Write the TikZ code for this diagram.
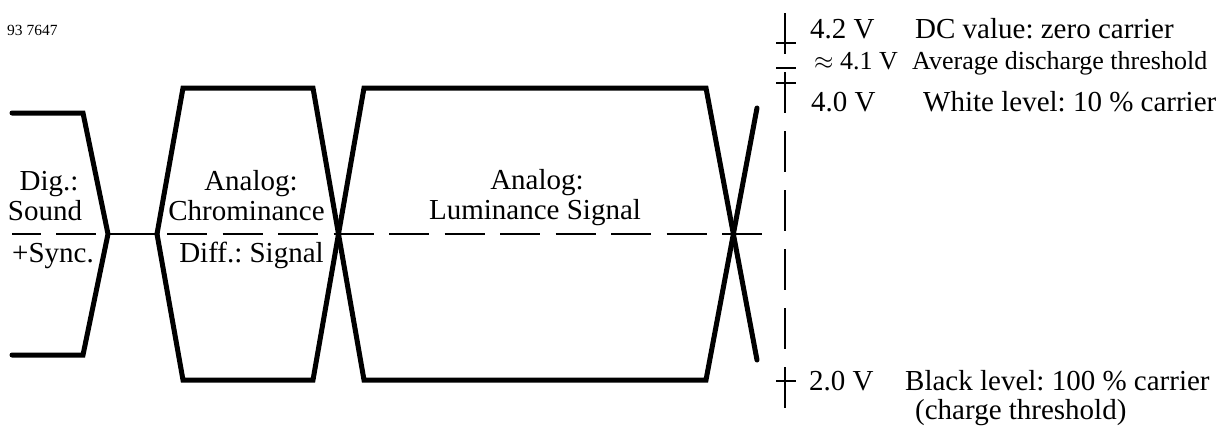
\documentclass[tikz,border=0pt]{standalone}
\usepackage{fontspec}
\setmainfont{Liberation Serif}
\usetikzlibrary{positioning}
\frenchspacing

\begin{document}
\begin{tikzpicture}[
    x=1pt, y=-1pt,
    signal/.style={
        line width=5pt,
        line join=miter,
        line cap=round
    },
    midlevel/.style={
        line width=2.5pt,
        dash pattern=on 40pt off 15.5pt,
        dash phase=11.5pt
    },
    scaleline/.style={
        line width=2.5pt,
        dash pattern=on 41pt off 18pt
    },
    tick/.style={line width=2.5pt},
    lbl/.style={
        font=\fontsize{29}{30}\selectfont,
        inner sep=0pt,
        anchor=base
    },
    smalllbl/.style={
        font=\fontsize{26}{27}\selectfont,
        inner sep=0pt
    }
]
\useasboundingbox (0,0) rectangle (1229,426);

\node[font=\fontsize{15.5}{16}\selectfont, inner sep=0pt, anchor=base west] (figno) at (7,35) {93 7647};

% zero line
\draw[midlevel] (12,234) -- (762,234);

% sound + sync burst
\coordinate (sndtip) at (108,234);
\coordinate (chrtip) at (157,234);
\draw[signal] (12,113) -- (83,113) -- (sndtip) -- (83,355) -- (12,355);
\draw[tick] (sndtip) -- (chrtip);

% chrominance and luminance
\draw[signal] (chrtip) -- (183,88) -- (313,88) -- (364,380) -- (706,380) -- (757,108);
\draw[signal] (chrtip) -- (183,380) -- (313,380) -- (364,88) -- (706,88) -- (757,360);

\node[lbl] (dig) at (49,190) {Dig.:};
\node[lbl] (sound) at (45,220) {Sound};
\node[lbl] (sync) at (53,262) {+Sync.};

\node[lbl] (chranalog) at (251,190) {Analog:};
\node[lbl] (chroma) at (246.5,220) {Chrominance};
\node[lbl] (diff) at (251.5,262) {Diff.: Signal};

\node[lbl] (lumanalog) at (537,189) {Analog:};
\node[lbl] (luma) at (535,219) {Luminance Signal};

% voltage scale
\draw[scaleline] (785,13) -- (785,408);
\foreach \y in {43,68,83,381}
    \draw[tick] (776,\y) -- (796,\y);

\node[lbl, anchor=base west] (v42) at (810,38) {4.2 V};
\node[lbl, anchor=base west] (dcval) at (915,38) {DC value: zero carrier};

\node[smalllbl, anchor=base west] (v41) at (814,69) {$\approx$ 4.1 V};
\node[smalllbl, anchor=base west] (disch) at (912,69) {Average discharge threshold};

\node[lbl, anchor=base west] (v40) at (811,111) {4.0 V};
\node[lbl, anchor=base west] (white) at (923,111) {White level: 10 \% carrier};

\node[lbl, anchor=base west] (v20) at (809,390) {2.0 V};
\node[lbl, anchor=base west] (black) at (905,390) {Black level: 100 \% carrier};
\node[lbl, anchor=base west] (charge) at (915,419) {(charge threshold)};

\end{tikzpicture}
\end{document}
